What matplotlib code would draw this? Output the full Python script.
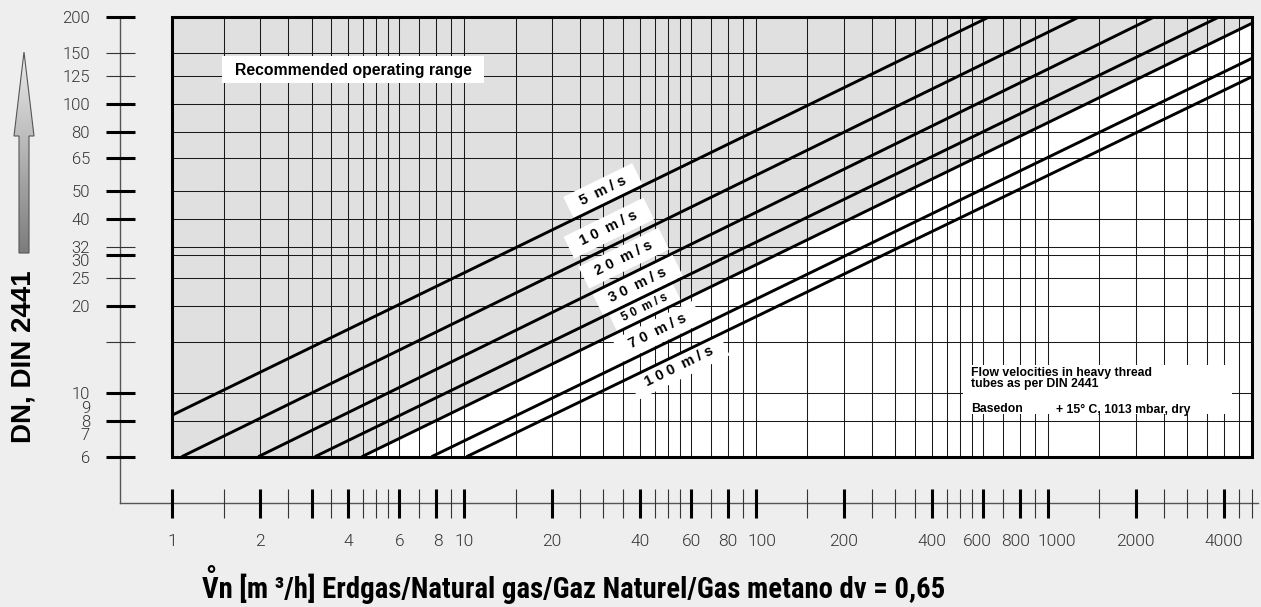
import numpy as np
import matplotlib
matplotlib.use("Agg")
import matplotlib.pyplot as plt
from matplotlib.patches import Rectangle, Polygon
from matplotlib.ticker import FixedLocator, FixedFormatter, NullFormatter
from matplotlib.transforms import ScaledTranslation
from matplotlib.colors import LinearSegmentedColormap

# ---------------- data ----------------
q_limits = [1, 5000]          # m3/h
dn_limits = [6, 200]          # DN

x_major = [1, 2, 3, 4, 6, 8, 10, 20, 40, 60, 80, 100, 200, 400, 600, 800,
           1000, 2000, 4000]
x_major_labels = ["1", "2", "", "4", "6", "8", "10", "20", "40", "60", "80",
                  "100", "200", "400", "600", "800", "1000", "2000", "4000"]
x_minor = [1.5, 2.5, 3.5, 4.5, 5, 5.5, 7, 9, 15, 25, 30, 35, 45, 50, 55, 70,
           90, 150, 250, 300, 350, 450, 500, 550, 700, 900, 1500, 2500, 3000,
           3500, 4500, 5000]

dn_major = [6, 7, 8, 9, 10, 20, 30, 40, 50, 65, 80, 100, 200]
dn_major_labels = ["6", "7", "8", "9", "10", "20", "30", "40", "50", "65",
                   "80", "100", "200"]
dn_label_only = [7, 9]
dn_minor = [15, 25, 32, 125, 150]
dn_minor_labels = ["", "25", "32", "125", "150"]

velocities = ["5 m/s", "10 m/s", "20 m/s", "30 m/s", "50 m/s", "70 m/s",
              "100 m/s"]
line_q_start = [1, 1.077, 1.97, 3.08, 4.46, 7.73, 10.19]
line_dn_start = [8.36, 6, 6, 6, 6, 6, 6]
line_q_end = [631, 1284, 2320, 3873, 5000, 5000, 5000]
line_dn_end = [200, 200, 200, 200, 189.8, 143.6, 124]
label_q = [29.9, 31.3, 35.2, 39.3, 41.6, 46.1, 54.4]
label_dn = [49.9, 37.1, 29.2, 23.6, 19.7, 16.3, 12.3]
label_size = [10.5, 10.5, 10.5, 10.5, 8.5, 10.5, 10.5]
range_boundary = 4   # index of the line bounding the recommended range

x_title = "Vn [m ³/h] Erdgas/Natural gas/Gaz Naturel/Gas metano dv = 0,65"
y_title = "DN, DIN 2441"

# ---------------- figure ----------------
W, H = 1261, 607
fig = plt.figure(figsize=(W / 100, H / 100), dpi=100, facecolor="#eeeeee")

BOLD = ["Liberation Sans", "DejaVu Sans"]
LIGHT = ["Roboto", "DejaVu Sans"]
COND = ["Roboto Condensed", "Liberation Sans", "DejaVu Sans"]

ov = fig.add_axes([0, 0, 1, 1], zorder=0)
ov.set_xlim(0, W)
ov.set_ylim(H, 0)
ov.axis("off")

x0, x1, yt, yb = 172.3, 1252.0, 16.7, 456.7
ax = fig.add_axes([x0 / W, (H - yb) / H, (x1 - x0) / W, (yb - yt) / H],
                  zorder=1)
ax.set_xscale("log")
ax.set_yscale("log")
ax.set_xlim(*q_limits)
ax.set_ylim(*dn_limits)
ax.set_facecolor("white")
ax.set_axisbelow(True)

for s in ax.spines.values():
    s.set_visible(False)
px2pt = 72 / 100
ax.spines["left"].set_position(("outward", (x0 - 120) * px2pt))
ax.spines["bottom"].set_position(("outward", (503 - yb) * px2pt))

ax.xaxis.set_major_locator(FixedLocator(x_major))
ax.xaxis.set_major_formatter(FixedFormatter(x_major_labels))
ax.xaxis.set_minor_locator(FixedLocator(x_minor))
ax.xaxis.set_minor_formatter(NullFormatter())
ax.yaxis.set_major_locator(FixedLocator(dn_major))
ax.yaxis.set_major_formatter(FixedFormatter(dn_major_labels))
ax.yaxis.set_minor_locator(FixedLocator(dn_minor))
ax.yaxis.set_minor_formatter(FixedFormatter(dn_minor_labels))

tl = 29 * px2pt
ax.tick_params(axis="both", which="major", direction="inout", length=tl,
               width=2.2, color="black", labelcolor="#333333")
ax.tick_params(axis="both", which="minor", direction="inout", length=tl,
               width=0.8, color="#333333", labelcolor="#333333")
ax.tick_params(axis="x", which="both", pad=17 * px2pt, labelsize=12.5)
ax.tick_params(axis="y", which="both", pad=15.5 * px2pt, labelsize=12)
for lab in ax.get_xticklabels(which="both") + ax.get_yticklabels(which="both"):
    lab.set_fontfamily(LIGHT)
    lab.set_fontweight(300)

ax.grid(True, which="both", color="#1a1a1a", lw=0.75)
for t, v in zip(ax.yaxis.get_major_ticks(), dn_major):
    if v in dn_label_only:
        t.tick1line.set_visible(False)
        t.gridline.set_visible(False)


def nudge(ticks, values, target, dx_px, dy_px):
    for t, v in zip(ticks, values):
        if v == target:
            t.label1.set_transform(t.label1.get_transform() + ScaledTranslation(
                dx_px / 100, -dy_px / 100, fig.dpi_scale_trans))


xt = ax.xaxis.get_major_ticks()
for val, dx in [(8, 2), (100, 6), (600, -6), (800, -4), (1000, 9)]:
    nudge(xt, x_major, val, dx, 0)
ytk = ax.yaxis.get_major_ticks()
for val, dy in [(30, 5), (9, 1), (7, -3)]:
    nudge(ytk, dn_major, val, 0, dy)

# recommended operating range (grey area above boundary line)
b = range_boundary
ax.fill([q_limits[0], line_q_start[b], line_q_end[b], line_q_end[b],
         q_limits[0]],
        [dn_limits[0], line_dn_start[b], line_dn_end[b], dn_limits[1],
         dn_limits[1]],
        color="#e0e0e0", lw=0, zorder=0.2)

for qs, ds, qe, de in zip(line_q_start, line_dn_start, line_q_end,
                          line_dn_end):
    ax.plot([qs, qe], [ds, de], color="black", lw=2.1,
            solid_capstyle="butt", zorder=4)

p = ax.transData.transform([(line_q_start[1], line_dn_start[1]),
                            (line_q_end[1], line_dn_end[1])])
angle = np.degrees(np.arctan2(p[1, 1] - p[0, 1], p[1, 0] - p[0, 0]))
for lab, q, d, fs in zip(velocities, label_q, label_dn, label_size):
    num, unit = lab.split(" ")
    txt = "  " + " ".join(num) + "  " + " ".join(unit) + "  "
    ax.text(q, d, txt, rotation=angle, rotation_mode="anchor",
            ha="center", va="center", fontsize=fs, fontweight="bold",
            family=BOLD, zorder=3,
            bbox=dict(boxstyle="square,pad=0.35", fc="white", ec="none"))


def axfrac(px, py):
    return (px - x0) / (x1 - x0), (yb - py) / (yb - yt)


bx, by = axfrac(222, 83)
bx2, by2 = axfrac(484, 56)
ax.add_patch(Rectangle((bx, by), bx2 - bx, by2 - by, transform=ax.transAxes,
                       fc="white", ec="none", zorder=3))
ax.text(*axfrac(235, 70), "Recommended operating range",
        transform=ax.transAxes, ha="left", va="center", fontsize=11.3,
        fontweight="bold", family=BOLD, zorder=3.5)

bx, by = axfrac(963, 414)
bx2, by2 = axfrac(1232, 365)
ax.add_patch(Rectangle((bx, by), bx2 - bx, by2 - by, transform=ax.transAxes,
                       fc="white", ec="none", zorder=3))
note_kw = dict(transform=ax.transAxes, ha="left", va="baseline",
               fontsize=8.8, fontweight="bold", family=BOLD, zorder=3.5)
ax.text(*axfrac(971, 376), "Flow velocities in heavy thread", **note_kw)
ax.text(*axfrac(971, 387.5), "tubes as per DIN 2441", **note_kw)
ax.text(*axfrac(971, 412.5), "Basedon", **note_kw)
ax.text(*axfrac(1056, 412.5), "+ 15° C, 1013 mbar, dry", **note_kw)

ax.add_patch(Rectangle((0, 0), 1, 1, transform=ax.transAxes, fill=False,
                       ec="black", lw=2.2, zorder=6, clip_on=False))

ov.plot([120, 120], [yt, 503], color="#555555", lw=1.0)
ov.plot([120, 1258], [503, 503], color="#555555", lw=1.0)

arrow_xy = [(24, 52), (34, 136), (29, 136), (29, 253), (19, 253), (19, 136),
            (14, 136)]
poly = Polygon(arrow_xy, closed=True, fc="none", ec="#555555", lw=0.8,
               zorder=3)
ov.add_patch(poly)
grad = np.linspace(0, 1, 256).reshape(-1, 1)
cmap = LinearSegmentedColormap.from_list("g", ["#ececec", "#7c7c7c"])
im = ov.imshow(grad, cmap=cmap, extent=[14, 34, 253, 52], aspect="auto",
               zorder=2, origin="upper")
im.set_clip_path(poly)
ov.set_xlim(0, W)
ov.set_ylim(H, 0)

ov.text(24, 357, y_title, rotation=90, ha="center", va="center",
        fontsize=20, fontweight="bold", family=BOLD)
title_kw = dict(fontsize=20.7, fontweight="bold", family=COND)
title = ov.text(574, 598, x_title, ha="center", va="baseline", **title_kw)

# ring accent above the "V" of the title
fig.canvas.draw()
r = fig.canvas.get_renderer()
tb = title.get_window_extent(r)
vt = ov.text(0, 0, x_title[0], **title_kw)
vb = vt.get_window_extent(r)
vt.remove()
v_center = tb.x0 + vb.width / 2
ov.text(v_center, 586, "°", ha="center", va="baseline", **title_kw)

fig.savefig("out.png", dpi=100, facecolor=fig.get_facecolor())
